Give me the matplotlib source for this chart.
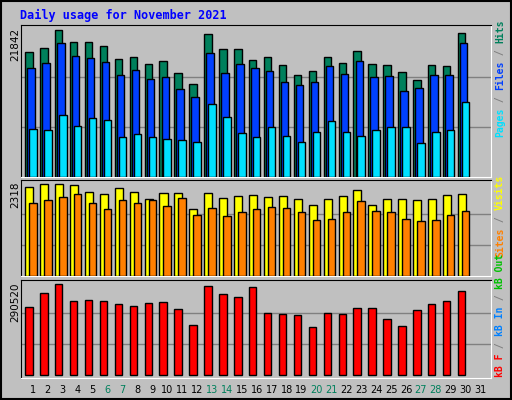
import matplotlib.pyplot as plt

days = list(range(1, 31))
weekend = [6, 7, 13, 14, 20, 21, 27, 28]

hits = [18580, 19174, 21842, 20064, 20064, 19471, 17544, 17840, 16802, 17247,
        15468, 13837, 21250, 19026, 19026, 17395, 17840, 16654, 15171, 15765,
        17840, 16950, 18730, 16802, 16654, 15616, 14430, 16654, 16506, 21398]
files = [16209, 16950, 19916, 17989, 17692, 17099, 15171, 15913, 14579, 14875,
         13096, 11910, 18433, 15468, 16802, 16209, 15765, 14134, 13689, 14134,
         16506, 15320, 17247, 14875, 15023, 12800, 13244, 15171, 15171, 19916]
pages = [7166, 7017, 9241, 7611, 8797, 8500, 5980, 6424, 5980, 5683,
         5535, 5238, 10872, 8945, 6573, 5980, 7462, 6128, 5238, 6721,
         8352, 6721, 6128, 7017, 7462, 7462, 5090, 6721, 7017, 11169]
visits = [2243, 2318, 2318, 2293, 2117, 2066, 2218, 2117, 1940, 2092,
          2092, 1688, 2092, 1966, 2016, 2041, 1991, 2016, 1940, 1789,
          1940, 2016, 2167, 1789, 1940, 1940, 1915, 1940, 2041, 2066]
sites = [1840, 1915, 1991, 2066, 1840, 1688, 1915, 1840, 1915, 1764,
         1966, 1537, 1714, 1512, 1613, 1688, 1739, 1714, 1613, 1411,
         1436, 1613, 1890, 1638, 1613, 1436, 1386, 1411, 1537, 1638]
kbytes = [217097, 261793, 290520, 236252, 239445, 236252, 226675, 220289, 229867, 233060,
          210712, 159630, 284141, 258601, 249023, 280949, 197941, 194749, 191556, 153245,
          197941, 194749, 213904, 213904, 178786, 156437, 207519, 226675, 236252, 268178]

W, H = 512, 400
BG = '#C0C0C0'
MONO = 'DejaVu Sans Mono'

fig = plt.figure(figsize=(W / 100, H / 100), dpi=100, facecolor=BG)


def px_axes(x0, y0, x1, y1):
    ax = fig.add_axes([x0 / W, 1 - y1 / H, (x1 - x0) / W, (y1 - y0) / H])
    ax.set_facecolor(BG)
    ax.set_xlim(0.2, 31.7)
    ax.set_xticks([])
    ax.set_yticks([])
    for s in ['left', 'top']:
        ax.spines[s].set_color('black')
    for s in ['right', 'bottom']:
        ax.spines[s].set_color('white')
    return ax


def bars(ax, vals, off, width, color):
    ax.bar([d + off for d in days], vals, width=width, align='edge',
           color=color, edgecolor='black', linewidth=1, zorder=3)


def grid(ax, mx):
    for f in (1 / 3, 2 / 3):
        ax.axhline(mx * f * 1.02, color='#808080', lw=1, zorder=1)


renderer = fig.canvas.get_renderer()


def side_label(pieces, x, ybottom):
    # stack pieces upward using their measured heights
    pos = ybottom
    for txt, col in pieces:
        t = fig.text(x / W, 1 - pos / H, txt, rotation=90, ha='center', va='bottom',
                     color=col, family=MONO, fontsize=7, fontweight='bold')
        pos -= t.get_window_extent(renderer).height


# top panel
ax1 = px_axes(21, 25, 491, 177)
mx = max(hits)
ax1.set_ylim(0, mx * 152 / 147.4)
grid(ax1, mx)
bars(ax1, hits, -0.52, 0.5, '#00805C')
bars(ax1, files, -0.38, 0.5, '#0040FF')
bars(ax1, pages, -0.25, 0.5, '#00E0FF')

# middle panel
ax2 = px_axes(21, 180, 491, 276)
mx = max(visits)
ax2.set_ylim(0, mx * 96.3 / 92)
grid(ax2, mx)
bars(ax2, visits, -0.52, 0.54, '#FFFF00')
bars(ax2, sites, -0.25, 0.5, '#FF8000')

# bottom panel
ax3 = px_axes(21, 280, 491, 378)
mx = max(kbytes)
ax3.set_ylim(-mx * 2.7 / 91, mx * 95.3 / 91)
grid(ax3, mx)
bars(ax3, kbytes, -0.52, 0.5, '#FF0000')

# day labels
for d in range(1, 32):
    ax3.text(d, -0.12, str(d), transform=ax3.get_xaxis_transform(), ha='center',
             va='center', fontsize=7, color='#00805C' if d in weekend else 'black')

# y max labels
fig.text(15 / W, 1 - 28 / H, str(max(hits)), rotation=90, ha='center', va='top', fontsize=7.5)
fig.text(15 / W, 1 - 181 / H, str(max(visits)), rotation=90, ha='center', va='top', fontsize=7.5)
fig.text(15 / W, 1 - 282 / H, str(max(kbytes)), rotation=90, ha='center', va='top', fontsize=7.5)

# title
fig.text(20 / W, 1 - 15 / H, 'Daily usage for November 2021', color='#0000FF',
         family=MONO, fontweight='bold', fontsize=8.5, va='center')

# side legends
side_label([('Pages', '#00E0FF'), (' / ', '#808080'), ('Files', '#0040FF'),
            (' / ', '#808080'), ('Hits', '#00805C')], 500, 137)
side_label([('Sites', '#FF8000'), (' / ', '#808080'), ('Visits', '#FFFF00')], 500, 257)
side_label([('kB F', '#FF0000'), (' / ', '#808080'), ('kB In', '#0080FF'),
            (' / ', '#808080'), ('kB Out', '#00C000')], 500, 377)

# outer frame
fig.patches.append(plt.Rectangle((0.002, 0.002), 0.996, 0.996, transform=fig.transFigure,
                                 fill=False, edgecolor='black', lw=1.5))

fig.savefig('out.png', dpi=100, facecolor=BG)
